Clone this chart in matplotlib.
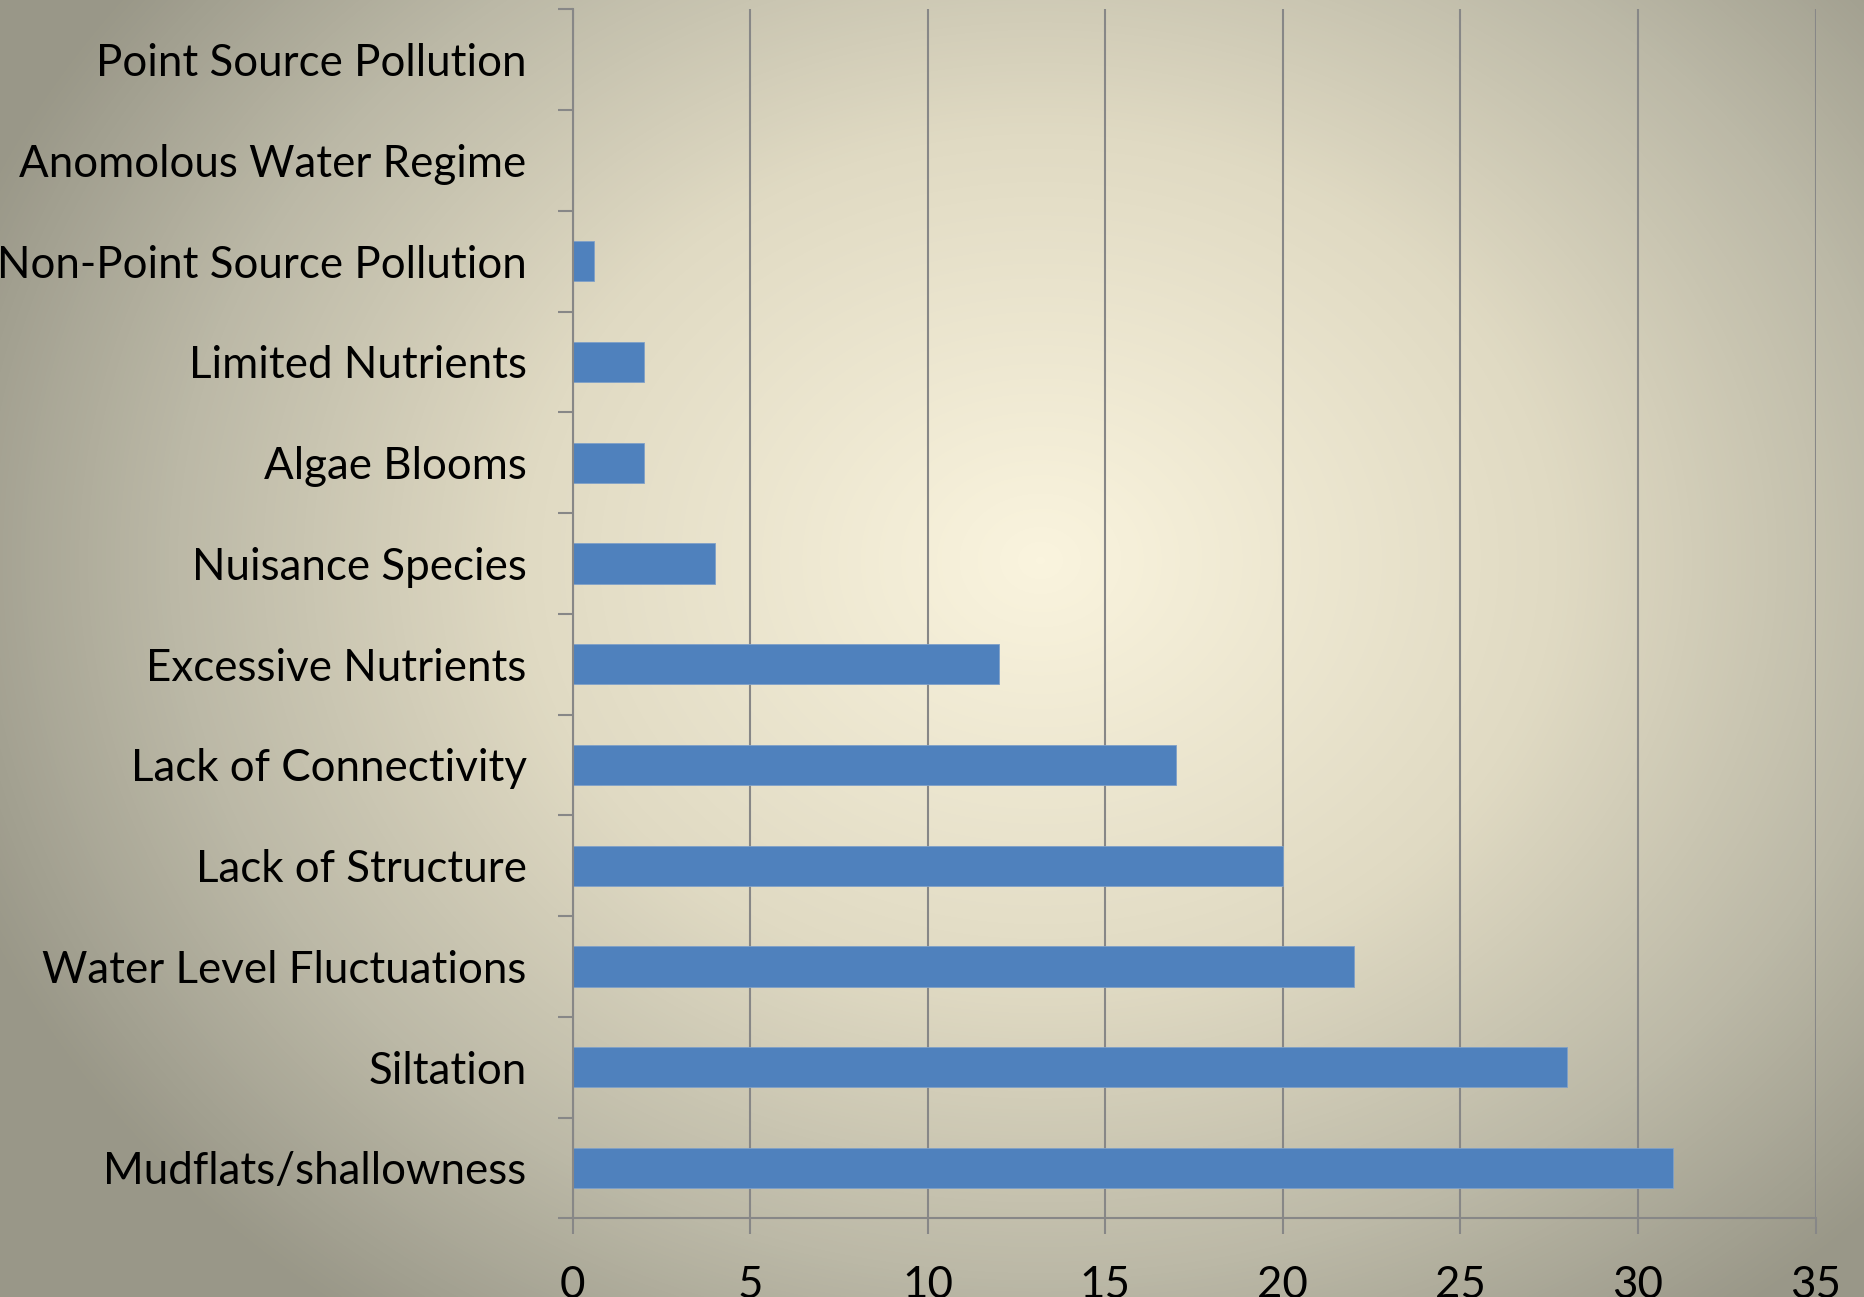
import numpy as np
import matplotlib
matplotlib.use("Agg")
import matplotlib.pyplot as plt
from matplotlib.colors import LinearSegmentedColormap

# Stressor categories, listed bottom to top
categories = ["Mudflats/shallowness", "Siltation", "Water Level Fluctuations",
              "Lack of Structure", "Lack of Connectivity", "Excessive Nutrients",
              "Nuisance Species", "Algae Blooms", "Limited Nutrients",
              "Non-Point Source Pollution", "Anomolous Water Regime",
              "Point Source Pollution"]
counts = [31, 28, 22, 20, 17, 12, 4, 2, 2, 0.6, 0, 0]
xticks = [0, 5, 10, 15, 20, 25, 30, 35]

W, H, DPI = 1864, 1297, 100
fig = plt.figure(figsize=(W / DPI, H / DPI), dpi=DPI)

# radial background fill, cream in the middle fading to grey
bg = fig.add_axes([0, 0, 1, 1])
yy, xx = np.mgrid[0:H, 0:W]
cx, cy = 1040, 560
r = np.sqrt(((xx - cx) / 1150.0) ** 2 + ((yy - cy) / 950.0) ** 2)
r = np.clip(r, 0, 1)
cmap = LinearSegmentedColormap.from_list(
    "bg", [(0, "#faf4de"), (0.45, "#e0dac3"), (0.75, "#bcb9a7"), (1, "#999788")])
bg.imshow(r, cmap=cmap, vmin=0, vmax=1, aspect="auto", interpolation="bilinear")
bg.axis("off")

ax = fig.add_axes([572.5 / W, 1 - 1218.3 / H, (1815.5 - 572.5) / W, (1218.3 - 9.3) / H])
ax.patch.set_alpha(0)

y = np.arange(len(categories))
ax.barh(y, counts, height=0.4, color="#4f81bd", edgecolor="#7fa0c8", linewidth=0.6, zorder=3)

ax.set_xlim(0, 35)
ax.set_ylim(-0.5, len(categories) - 0.5)
ax.set_xticks(xticks)
ax.set_xticklabels([str(t) for t in xticks])
ax.grid(axis="x", color="#878787", linewidth=1.5, zorder=1)

# ticks on category boundaries, labels centred between them
ax.set_yticks(np.arange(-0.5, len(categories), 1.0))
ax.set_yticklabels([])
ax.set_yticks(y, minor=True)
ax.set_yticklabels(categories, minor=True)

font = "Lato"
for lab in ax.get_yticklabels(minor=True) + ax.get_xticklabels():
    lab.set_fontfamily(font)
    lab.set_fontsize(31.6)
    lab.set_color("black")

ax.tick_params(axis="y", which="major", direction="out", length=11, width=1.5, color="#878787")
ax.tick_params(axis="y", which="minor", length=0, pad=33)
ax.tick_params(axis="x", direction="out", length=11.5, width=1.5, color="#878787", pad=22)

for s in ["top", "right"]:
    ax.spines[s].set_visible(False)
for s in ["left", "bottom"]:
    ax.spines[s].set_color("#878787")
    ax.spines[s].set_linewidth(1.5)
    ax.spines[s].set_zorder(4)

fig.savefig("out.png", dpi=DPI)
